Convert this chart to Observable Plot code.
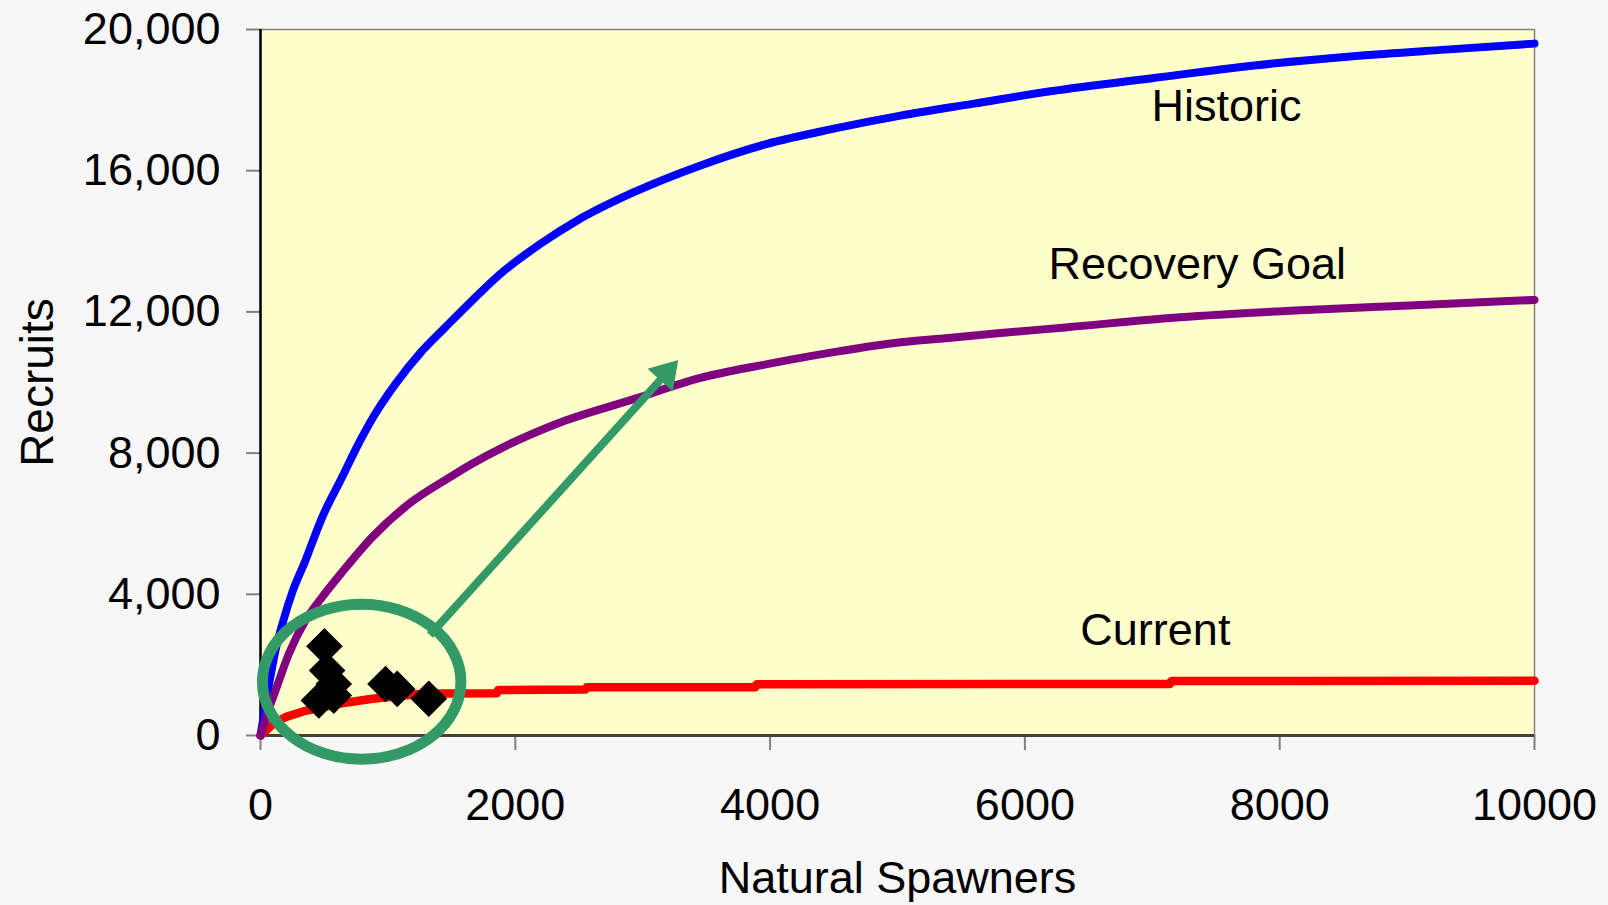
<!DOCTYPE html>
<html>
<head>
<meta charset="utf-8">
<script src="https://cdn.jsdelivr.net/npm/d3@7"></script>
<script src="https://cdn.jsdelivr.net/npm/@observablehq/plot@0.6"></script>
<style>
  html, body { margin: 0; padding: 0; background: #f7f7f7; }
  #chart { width: 1608px; height: 905px; }
</style>
</head>
<body>
<div id="chart"></div>
<script>
// ---- Data ----
const historicSpawners = [0, 60, 120, 183, 249, 353, 484, 641, 746, 890, 1060, 1269, 1452, 1661, 1884, 2198, 2486, 2930, 3454, 3977, 4500, 5024, 5600, 6200, 7000, 7800, 8600, 9300, 10000];
const historicRecruits = [0, 1300, 2450, 3300, 4050, 4960, 6180, 7320, 8100, 9050, 9960, 10900, 11570, 12320, 13080, 13930, 14590, 15390, 16150, 16760, 17190, 17560, 17900, 18250, 18620, 18980, 19250, 19430, 19600];

const goalSpawners = [0, 60, 118, 222, 353, 484, 641, 877, 1164, 1478, 1661, 1923, 2316, 2930, 3454, 3977, 4500, 5024, 5400, 5808, 6317, 7218, 8119, 9020, 10000];
const goalRecruits = [0, 700, 1275, 2310, 3260, 3920, 4630, 5620, 6560, 7300, 7700, 8200, 8820, 9530, 10130, 10520, 10860, 11140, 11260, 11400, 11560, 11850, 12040, 12180, 12340];

const currentSpawners = [0, 100, 196, 353, 615, 877, 1217, 1420, 1855, 1865, 2550, 2560, 3885, 3895, 7140, 7150, 10000];
const currentRecruits = [0, 330, 520, 700, 900, 1040, 1170, 1190, 1195, 1290, 1300, 1365, 1370, 1455, 1460, 1545, 1550];

const obsSpawners = [502, 523, 575, 458, 575, 981, 1073, 1321];
const obsRecruits = [2530, 1840, 1460, 990, 1130, 1460, 1320, 1040];

const yTicks = [0, 4000, 8000, 12000, 16000, 20000];
const xTicks = [0, 2000, 4000, 6000, 8000, 10000];

const curveNames = ["Historic", "Recovery Goal", "Current"];
const curveLabelX = [7582, 7353, 7024];
const curveLabelY = [17830, 13326, 2986];

// annotation (in data units)
const ringCenter = [798, 1510];
const ringRadii = [779, 2195];
const arrowFrom = [1334, 2833];
const arrowTo = [3283, 10623];

// ---- Build tables ----
const zip = (xs, ys) => xs.map((s, i) => ({s, r: ys[i]}));
const historic = zip(historicSpawners, historicRecruits);
const goal = zip(goalSpawners, goalRecruits);
const current = zip(currentSpawners, currentRecruits);
const obs = zip(obsSpawners, obsRecruits);
const labels = curveNames.map((name, i) => ({name, s: curveLabelX[i], r: curveLabelY[i]}));

const green = "#339966";
const font = "'Liberation Sans', Arial, Helvetica, sans-serif";

function annotations(index, scales) {
  const x = scales.x, y = scales.y;
  const g = d3.create("svg:g");
  const cx = x(ringCenter[0]), cy = y(ringCenter[1]);
  g.append("ellipse")
    .attr("cx", cx).attr("cy", cy)
    .attr("rx", x(ringCenter[0] + ringRadii[0]) - cx)
    .attr("ry", cy - y(ringCenter[1] + ringRadii[1]))
    .attr("fill", "none").attr("stroke", green).attr("stroke-width", 11);
  const x1 = x(arrowFrom[0]), y1 = y(arrowFrom[1]);
  const x2 = x(arrowTo[0]), y2 = y(arrowTo[1]);
  const len = Math.hypot(x2 - x1, y2 - y1);
  const ux = (x2 - x1) / len, uy = (y2 - y1) / len;
  const headLen = 27, headHalf = 17;
  const bx = x2 - ux * headLen, by = y2 - uy * headLen;
  g.append("line")
    .attr("x1", x1).attr("y1", y1)
    .attr("x2", bx + ux * 3).attr("y2", by + uy * 3)
    .attr("stroke", green).attr("stroke-width", 8);
  g.append("path")
    .attr("d", `M${x2},${y2}L${bx - uy * headHalf},${by + ux * headHalf}L${bx + uy * headHalf},${by - ux * headHalf}Z`)
    .attr("fill", green);
  return g.node();
}

const chart = Plot.plot({
  width: 1608,
  height: 905,
  marginLeft: 260,
  marginRight: 74,
  marginTop: 29,
  marginBottom: 170,
  style: {background: "transparent", fontFamily: font, fontSize: "45px", color: "black"},
  x: {domain: [0, 10000]},
  y: {domain: [0, 20000]},
  marks: [
    Plot.frame({fill: "#ffffcc", stroke: "#808080", strokeWidth: 1.5}),
    Plot.axisY({ticks: yTicks, tickSize: 14, tickPadding: 26, tickFormat: d3.format(","), stroke: "#808080", strokeWidth: 2, fill: "black", fontSize: 45, label: null}),
    Plot.axisX({ticks: xTicks, tickSize: 15, tickPadding: 38, tickFormat: d => String(d), stroke: "#808080", strokeWidth: 2, fill: "black", fontSize: 45, label: null}),
    Plot.ruleX([0], {stroke: "black", strokeWidth: 2.5}),
    Plot.ruleY([0], {stroke: "#404040", strokeWidth: 3}),
    Plot.line(historic, {x: "s", y: "r", curve: "monotone-x", stroke: "#0000ff", strokeWidth: 8, strokeLinecap: "round", strokeLinejoin: "round"}),
    Plot.line(current, {x: "s", y: "r", stroke: "#ff0000", strokeWidth: 8.5, strokeLinecap: "round", strokeLinejoin: "round"}),
    Plot.line(goal, {x: "s", y: "r", curve: "monotone-x", stroke: "#800080", strokeWidth: 8, strokeLinecap: "round", strokeLinejoin: "round"}),
    Plot.dot(obs, {x: "s", y: "r", symbol: "diamond2", r: 16.5, fill: "black", stroke: null}),
    annotations,
    Plot.text(labels, {x: "s", y: "r", text: "name", fontSize: 45, fill: "black", textAnchor: "middle"}),
    Plot.text(["Recruits"], {frameAnchor: "left", dx: -222, rotate: -90, textAnchor: "middle", lineAnchor: "middle", fontSize: 46, fill: "black"}),
    Plot.text(["Natural Spawners"], {frameAnchor: "bottom", dy: 142.6, textAnchor: "middle", lineAnchor: "middle", fontSize: 45, fill: "black"})
  ]
});
document.getElementById("chart").appendChild(chart);
</script>
</body>
</html>
